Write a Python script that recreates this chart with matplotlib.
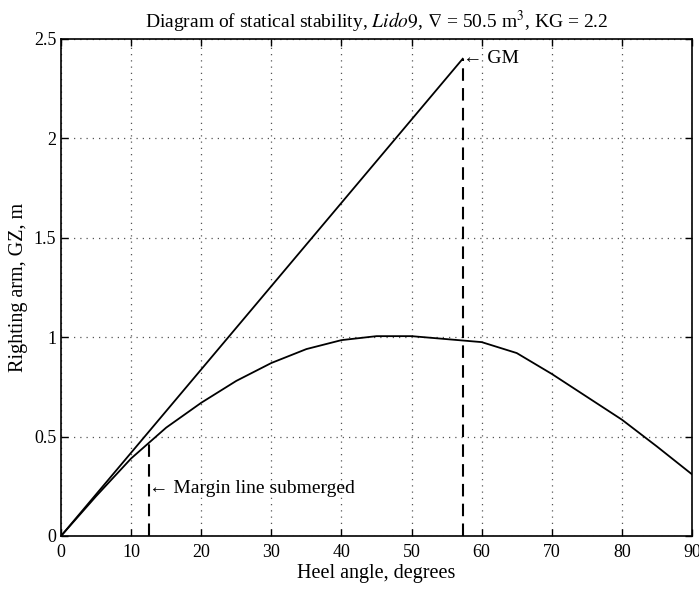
import numpy as np
import matplotlib
matplotlib.use("Agg")
import matplotlib.pyplot as plt

plt.rcParams['font.family'] = ['Liberation Serif', 'DejaVu Serif']
plt.rcParams['mathtext.fontset'] = 'stix'

# righting arm curve, read every 5 degrees
heel = [0, 5, 10, 15, 20, 25, 30, 35, 40, 45, 50, 55, 60, 65, 70, 75, 80, 85, 90]
gz = [0, 0.20, 0.39, 0.545, 0.67, 0.78, 0.87, 0.94, 0.985, 1.005, 1.005, 0.99,
      0.975, 0.92, 0.815, 0.70, 0.585, 0.45, 0.31]

GM = 2.4
one_radian = 180 / np.pi          # 57.3 degrees
margin_angle = 12.6
margin_gz = 0.47

fig = plt.figure(figsize=(6.99, 5.89), dpi=100)
ax = fig.add_axes([0.0873, 0.090, 0.9027, 0.844])

ax.plot(heel, gz, color='black', lw=1.3)
ax.plot([0, one_radian], [0, GM], color='black', lw=1.3)
ax.plot([one_radian, one_radian], [0, GM], color='black', lw=1.5, ls=(0, (6, 3.5)))
ax.plot([margin_angle, margin_angle], [0, margin_gz], color='black', lw=1.5, ls=(0, (6, 3.5)))

ax.text(one_radian, GM, '\u2190 GM', fontsize=14, va='center', ha='left')
ax.text(margin_angle, 0.24, '\u2190 Margin line submerged', fontsize=14, va='center', ha='left')

ax.set_xlim(0, 90)
ax.set_ylim(0, 2.5)
ax.set_xticks(np.arange(0, 91, 10))
ax.set_yticks([0, 0.5, 1, 1.5, 2, 2.5])
ax.set_yticklabels(['0', '0.5', '1', '1.5', '2', '2.5'])
ax.grid(True, ls=(0, (1, 4)), color='#555555', lw=0.9)
ax.tick_params(direction='in', top=True, right=True, length=5, width=1, labelsize=13)
ax.tick_params(axis='x', pad=6)
for s in ax.spines.values():
    s.set_linewidth(1.2)

ax.set_xlabel('Heel angle, degrees', fontsize=14.5, labelpad=2)
ax.set_ylabel('Righting arm, GZ, m', fontsize=14.5, labelpad=4)
ax.set_title(r'Diagram of statical stability, $\mathit{Lido9}$, $\nabla$ = 50.5 m$^3$, KG = 2.2',
             fontsize=14, pad=8)

fig.savefig('out.png', dpi=100)
